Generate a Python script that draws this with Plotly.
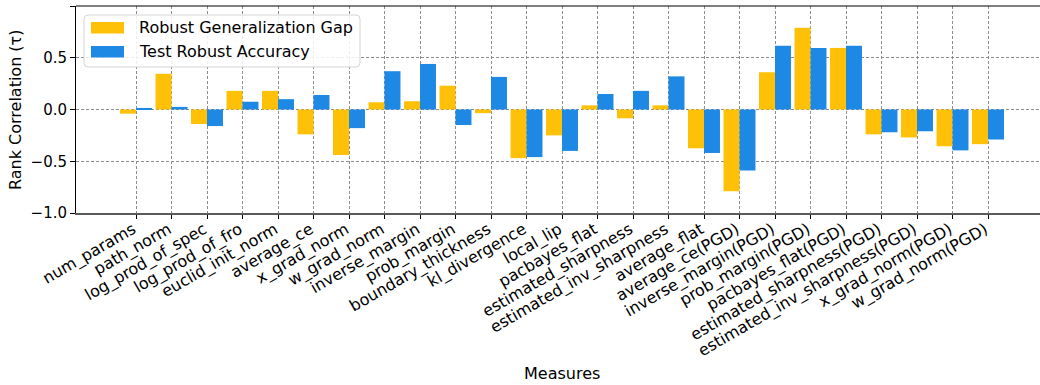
import plotly.graph_objects as go

# Generalization measures on the x axis
measures = [
    "num_params", "path_norm", "log_prod_of_spec", "log_prod_of_fro",
    "euclid_init_norm", "average_ce", "x_grad_norm", "w_grad_norm",
    "inverse_margin", "prob_margin", "boundary_thickness", "kl_divergence",
    "local_lip", "pacbayes_flat", "estimated_sharpness",
    "estimated_inv_sharpness", "average_flat", "average_ce(PGD)",
    "inverse_margin(PGD)", "prob_margin(PGD)", "pacbayes_flat(PGD)",
    "estimated_sharpness(PGD)", "estimated_inv_sharpness(PGD)",
    "x_grad_norm(PGD)", "w_grad_norm(PGD)",
]

# Kendall rank correlation with the robust generalization gap
gap_tau = [
    -0.04, 0.345, -0.14, 0.18, 0.18, -0.24, -0.44, 0.07,
    0.08, 0.23, -0.035, -0.47, -0.25, 0.04, -0.085,
    0.04, -0.375, -0.79, 0.36, 0.79, 0.595,
    -0.24, -0.27, -0.355, -0.335,
]

# Kendall rank correlation with test robust accuracy
acc_tau = [
    0.015, 0.025, -0.16, 0.075, 0.10, 0.14, -0.18, 0.37,
    0.44, -0.15, 0.315, -0.46, -0.40, 0.15, 0.18,
    0.32, -0.42, -0.59, 0.615, 0.595, 0.615,
    -0.22, -0.21, -0.395, -0.29,
]

y_ticks = [-1.0, -0.5, 0.0, 0.5, 1.0]
y_tick_text = ["\u22121.0", "\u22120.5", "0.0", "0.5", "1.0"]

YELLOW = "#FFC107"
BLUE = "#1E88E5"
FONT = "DejaVu Sans"

W, H = 1040, 385
L, R, T, B = 76, 0, 6, 172
PW = W - L - R
PH = H - T - B


def px_x(x):
    return (x - L) / PW


def px_y(y):
    return (H - B - y) / PH


fig = go.Figure()
fig.add_trace(go.Bar(x=measures, y=gap_tau, name="Robust Generalization Gap",
                     marker=dict(color=YELLOW, line=dict(width=0)),
                     showlegend=False))
fig.add_trace(go.Bar(x=measures, y=acc_tau, name="Test Robust Accuracy",
                     marker=dict(color=BLUE, line=dict(width=0)),
                     showlegend=False))

grid = dict(showgrid=True, gridcolor="#8c8c8c", gridwidth=1, griddash="3px,2px")

fig.update_layout(
    width=W, height=H,
    margin=dict(l=L, r=R, t=T, b=B, pad=0),
    paper_bgcolor="white", plot_bgcolor="white",
    barmode="group", bargap=0.1, bargroupgap=0,
    font=dict(family=FONT, size=15, color="black"),
    xaxis=dict(
        type="category", range=[-1.69, -1.69 + PW / 35.5],
        tickangle=-30, ticks="outside", ticklen=4, tickcolor="black",
        ticklabelstandoff=-5, ticklabelshift=-3,
        showline=True, linecolor="#5a5a5a", linewidth=2,
        tickfont=dict(family=FONT, size=16), zeroline=False, **grid,
    ),
    yaxis=dict(
        range=[-1.0, 1.0], tickvals=y_ticks, ticktext=y_tick_text,
        ticks="outside", ticklen=5, tickcolor="black",
        showline=True, linecolor="black", linewidth=1,
        tickfont=dict(family=FONT, size=15), zeroline=False, **grid,
    ),
)

# top spine
fig.add_shape(type="line", xref="paper", yref="paper", x0=0, x1=1, y0=1, y1=1,
              line=dict(color="black", width=1.2))

# axis titles
fig.add_annotation(text="Measures", xref="paper", yref="paper",
                   x=px_x(562), y=px_y(373), xanchor="center", yanchor="middle",
                   showarrow=False, font=dict(family=FONT, size=16))
fig.add_annotation(text="Rank Correlation (\u03c4)", xref="paper", yref="paper",
                   x=px_x(15), y=px_y(110), xanchor="center", yanchor="middle",
                   textangle=-90, showarrow=False, font=dict(family=FONT, size=16))

# legend box with rounded corners
x0, x1, y0, y1, r = 84, 360, 15, 67, 4
path = (f"M {px_x(x0 + r)},{px_y(y0)} L {px_x(x1 - r)},{px_y(y0)} "
        f"Q {px_x(x1)},{px_y(y0)} {px_x(x1)},{px_y(y0 + r)} "
        f"L {px_x(x1)},{px_y(y1 - r)} Q {px_x(x1)},{px_y(y1)} {px_x(x1 - r)},{px_y(y1)} "
        f"L {px_x(x0 + r)},{px_y(y1)} Q {px_x(x0)},{px_y(y1)} {px_x(x0)},{px_y(y1 - r)} "
        f"L {px_x(x0)},{px_y(y0 + r)} Q {px_x(x0)},{px_y(y0)} {px_x(x0 + r)},{px_y(y0)} Z")
fig.add_shape(type="path", xref="paper", yref="paper", path=path,
              line=dict(color="#d5d5d5", width=1), fillcolor="rgba(255,255,255,0.85)")

legend_items = [("Robust Generalization Gap", YELLOW, 22, 33.5),
                ("Test Robust Accuracy", BLUE, 46, 57.5)]
for label, color, sy0, sy1 in legend_items:
    fig.add_shape(type="rect", xref="paper", yref="paper",
                  x0=px_x(91), x1=px_x(124), y0=px_y(sy1), y1=px_y(sy0),
                  line=dict(width=0), fillcolor=color)
    fig.add_annotation(text=label, xref="paper", yref="paper",
                       x=px_x(137), y=px_y((sy0 + sy1) / 2), xanchor="left",
                       yanchor="middle", showarrow=False,
                       font=dict(family=FONT, size=16))

fig.write_html("out.html")
